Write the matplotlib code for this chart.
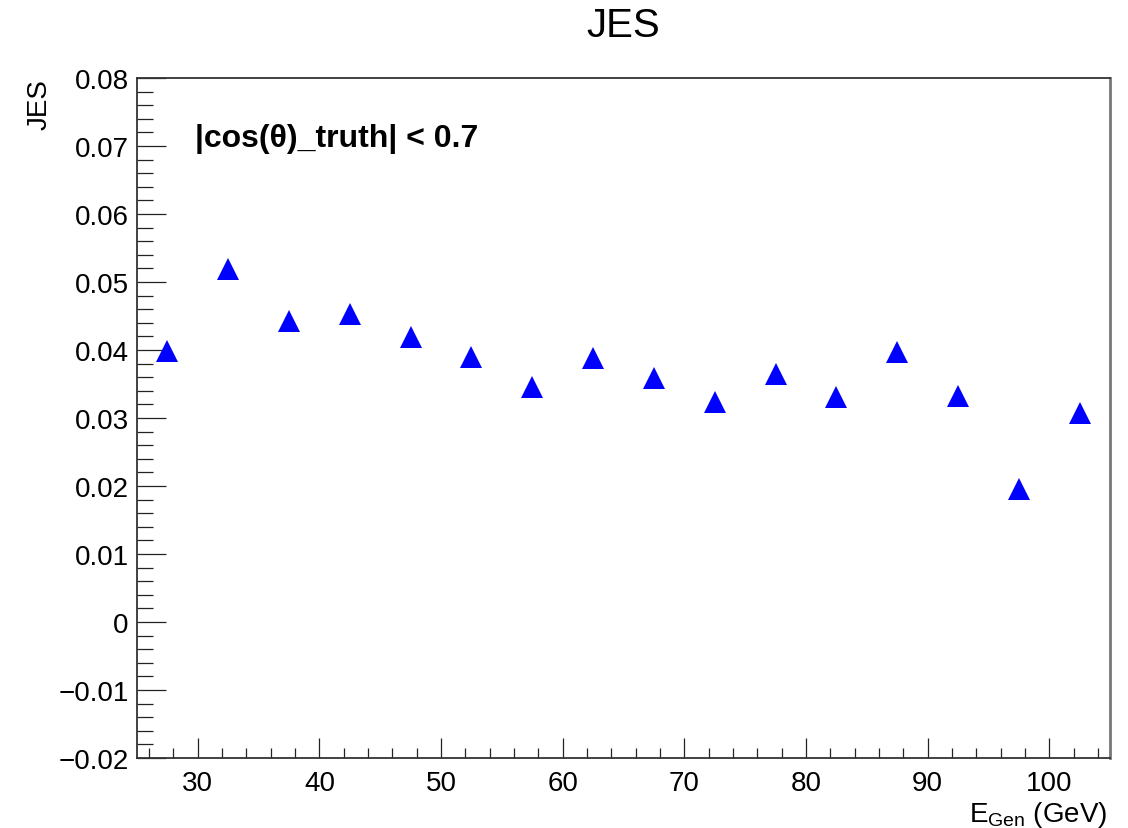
import matplotlib
matplotlib.use("Agg")
import matplotlib.pyplot as plt
from matplotlib.ticker import MultipleLocator, FixedLocator
from matplotlib.transforms import IdentityTransform

plt.rcParams['font.family'] = ['Liberation Sans', 'DejaVu Sans']
plt.rcParams['mathtext.fontset'] = 'custom'
plt.rcParams['mathtext.rm'] = 'Liberation Sans'
plt.rcParams['mathtext.it'] = 'Liberation Sans:italic'

# Data
e_gen = [27.5, 32.5, 37.5, 42.5, 47.5, 52.5, 57.5, 62.5, 67.5, 72.5,
         77.5, 82.5, 87.5, 92.5, 97.5, 102.5]
jes = [0.0399, 0.0519, 0.0443, 0.0453, 0.0419, 0.0389, 0.0345, 0.0388,
       0.0359, 0.0324, 0.0365, 0.0331, 0.0397, 0.0333, 0.0196, 0.0307]
x_ticks = [30, 40, 50, 60, 70, 80, 90, 100]
y_ticks = [-0.02, -0.01, 0, 0.01, 0.02, 0.03, 0.04, 0.05, 0.06, 0.07, 0.08]
y_ticklabels = ['\u22120.02', '\u22120.01', '0', '0.01', '0.02', '0.03',
                '0.04', '0.05', '0.06', '0.07', '0.08']

W, H = 1128, 829
fig = plt.figure(figsize=(W / 100, H / 100), dpi=100)
ax = fig.add_axes([137 / W, 1 - 759 / H, (1110 - 137) / W, (759 - 79) / H])

ax.plot(e_gen, jes, linestyle='none', marker='^', markersize=16.5,
        color='#0000ff', markeredgewidth=0)

ax.set_xlim(25, 105)
ax.set_ylim(-0.02, 0.08)
ax.xaxis.set_major_locator(FixedLocator(x_ticks))
ax.xaxis.set_minor_locator(MultipleLocator(2))
ax.set_yticks(y_ticks)
ax.set_yticklabels(y_ticklabels)
ax.yaxis.set_minor_locator(MultipleLocator(0.002))

ax.tick_params(axis='both', which='both', direction='in', top=False, right=False,
               width=0.9, color='#222222')
ax.tick_params(axis='y', which='major', length=21, labelsize=20, pad=6)
ax.tick_params(axis='y', which='minor', length=11.5)
ax.tick_params(axis='x', which='major', length=14.4, labelsize=20, pad=9)
ax.tick_params(axis='x', which='minor', length=7.2)

for s in ax.spines.values():
    s.set_color('#333333')
    s.set_linewidth(1.3)
ax.spines['right'].set_color('#777777')
ax.spines['right'].set_linewidth(2)

ax.set_title('JES', fontsize=29, pad=30)
ax.set_ylabel('JES', fontsize=20, loc='top')
ax.yaxis.set_label_coords(-0.087, 1.0)
ax.set_xlabel(r'E$_{\mathrm{Gen}}$ (GeV)', fontsize=20, loc='right')
ax.xaxis.set_label_coords(0.997, -0.06)

ann = ax.text(195, H - 147, '|cos(\u03b8)_truth| < 0.7', fontsize=23,
              fontweight='bold')
ann.set_transform(IdentityTransform())

fig.savefig('out.png', dpi=100)
